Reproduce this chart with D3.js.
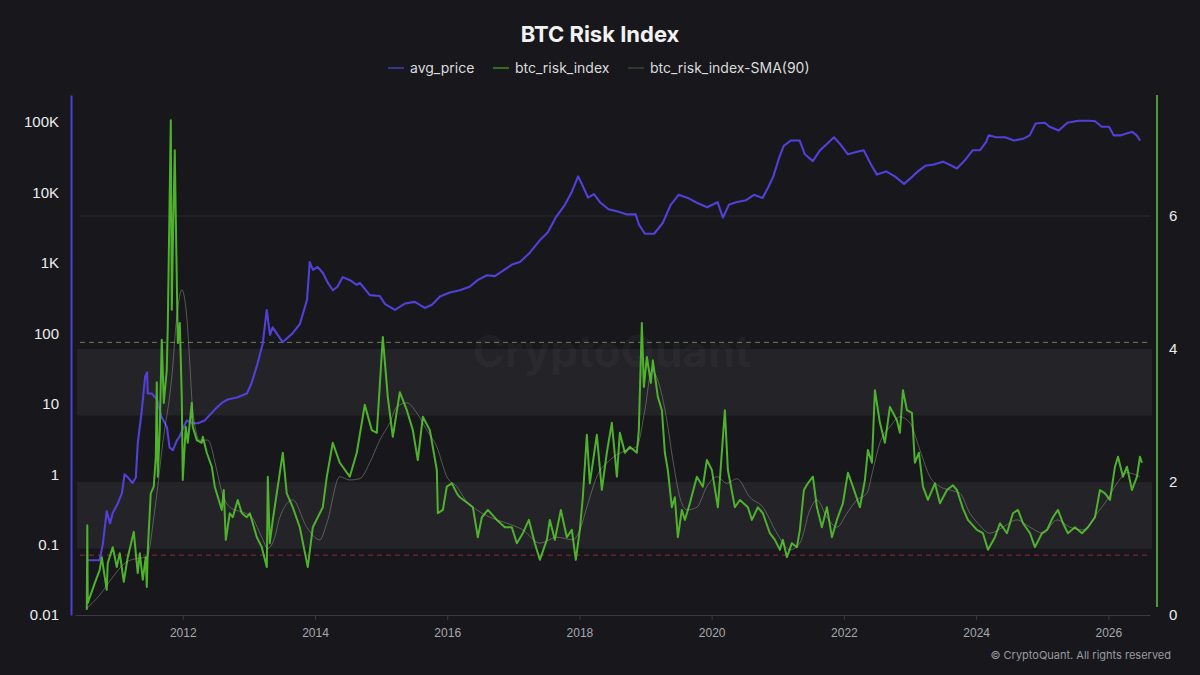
<!DOCTYPE html>
<html>
<head>
<meta charset="utf-8">
<script src="https://cdn.jsdelivr.net/npm/d3@7"></script>
<style>
  html, body { margin: 0; padding: 0; background: #17171c; }
  svg { display: block; font-family: Inter, "Noto Sans", sans-serif; }
</style>
</head>
<body>
<svg id="chart" width="1200" height="675"></svg>
<script>
// avg_price: [decimal year, USD]
const priceData = [
  [2010.55,0.06],[2010.59,0.06],[2010.74,0.06],[2010.79,0.1],[2010.85,0.3],[2010.90,0.2],[2010.94,0.28],
  [2011.02,0.39],[2011.08,0.54],[2011.12,1.0],[2011.17,0.9],[2011.24,0.75],[2011.29,0.9],[2011.32,2.8],
  [2011.38,8],[2011.43,24],[2011.46,28],[2011.47,14],[2011.53,14],[2011.61,11.5],[2011.68,6.5],
  [2011.76,4.7],[2011.80,2.4],[2011.85,2.2],[2011.91,3.0],[2011.95,3.4],[2012.06,5.8],[2012.15,5.3],
  [2012.23,5.3],[2012.33,5.8],[2012.48,8.2],[2012.59,10.3],[2012.68,11.5],[2012.83,12.4],[2012.97,14],
  [2013.04,19.6],[2013.13,37],[2013.21,72],[2013.27,215],[2013.32,95],[2013.36,122],[2013.51,75],
  [2013.66,100],[2013.77,135],[2013.88,300],[2013.92,1030],[2013.97,800],[2014.04,880],[2014.12,720],
  [2014.19,530],[2014.27,410],[2014.34,460],[2014.42,630],[2014.53,570],[2014.63,490],[2014.68,520],
  [2014.83,350],[2014.98,340],[2015.06,260],[2015.21,216],[2015.36,265],[2015.51,280],[2015.66,230],
  [2015.77,255],[2015.89,335],[2016.04,380],[2016.19,410],[2016.34,460],[2016.46,570],[2016.60,670],
  [2016.72,650],[2016.84,770],[2016.98,950],[2017.10,1030],[2017.25,1400],[2017.40,2100],[2017.52,2700],
  [2017.64,4400],[2017.78,6700],[2017.88,10000],[2017.98,17000],[2018.04,13000],[2018.13,8500],
  [2018.22,9500],[2018.31,7300],[2018.44,5800],[2018.58,5400],[2018.72,4900],[2018.85,4900],
  [2018.90,3500],[2018.99,2600],[2019.13,2600],[2019.26,3700],[2019.38,6700],[2019.50,9300],
  [2019.64,8400],[2019.76,7300],[2019.93,6200],[2020.09,7300],[2020.17,4400],[2020.26,6700],
  [2020.37,7300],[2020.52,7800],[2020.64,9300],[2020.77,8400],[2020.85,11600],[2020.93,16700],
  [2021.02,31000],[2021.09,46000],[2021.20,55000],[2021.33,55000],[2021.41,35000],[2021.53,28000],
  [2021.64,40000],[2021.77,52000],[2021.85,61000],[2021.95,48000],[2022.06,35000],[2022.20,38000],
  [2022.30,40000],[2022.41,25000],[2022.50,18000],[2022.64,20000],[2022.77,17000],[2022.91,13300],
  [2023.04,17000],[2023.12,20000],[2023.23,24000],[2023.36,25000],[2023.50,27500],[2023.63,24000],
  [2023.71,22000],[2023.82,28000],[2023.95,40000],[2024.06,40000],[2024.15,52000],[2024.19,65000],
  [2024.30,61000],[2024.44,61000],[2024.57,55000],[2024.71,58000],[2024.81,65000],[2024.90,96000],
  [2025.04,98000],[2025.11,86000],[2025.25,76000],[2025.38,98000],[2025.55,105000],[2025.71,105000],
  [2025.80,103000],[2025.90,86000],[2026.01,86000],[2026.08,65000],[2026.19,65000],[2026.36,73000],
  [2026.43,65000],[2026.48,55000]
];

// btc_risk_index: [decimal year, value]
const riskData = [
  [2010.548,0.08],[2010.556,1.35],[2010.563,0.18],[2010.669,0.48],[2010.744,0.68],[2010.775,0.87],
  [2010.820,0.57],[2010.850,0.38],[2010.865,0.78],[2010.941,1.02],[2011.002,0.72],[2011.047,0.93],
  [2011.108,0.5],[2011.168,0.87],[2011.259,1.25],[2011.319,0.63],[2011.350,0.93],[2011.395,0.53],
  [2011.440,0.87],[2011.456,0.42],[2011.471,0.98],[2011.516,1.83],[2011.561,1.93],[2011.592,2.38],
  [2011.607,3.5],[2011.622,2.08],[2011.652,2.78],[2011.682,4.14],[2011.713,3.19],[2011.758,3.68],
  [2011.773,4.33],[2011.819,7.44],[2011.834,4.59],[2011.849,5.53],[2011.879,6.99],[2011.909,5.08],
  [2011.925,4.09],[2011.955,4.39],[2011.985,3.28],[2012.000,2.03],[2012.045,2.83],[2012.076,2.59],
  [2012.136,3.19],[2012.151,2.83],[2012.212,2.63],[2012.287,2.59],[2012.303,2.68],[2012.363,2.44],
  [2012.439,2.23],[2012.484,1.93],[2012.514,1.83],[2012.590,1.58],[2012.620,1.88],[2012.651,1.13],
  [2012.711,1.53],[2012.756,1.47],[2012.832,1.73],[2012.893,1.53],[2012.968,1.47],[2013.014,1.53],
  [2013.044,1.43],[2013.120,1.17],[2013.195,1.02],[2013.271,0.72],[2013.286,2.08],[2013.316,1.08],
  [2013.362,1.43],[2013.513,2.44],[2013.573,1.83],[2013.664,1.62],[2013.770,1.32],[2013.891,0.72],
  [2013.967,1.32],[2014.118,1.62],[2014.179,2.08],[2014.269,2.59],[2014.375,2.29],[2014.526,2.08],
  [2014.632,2.44],[2014.753,3.16],[2014.859,2.78],[2014.935,2.74],[2015.026,4.18],[2015.101,3.28],
  [2015.177,2.68],[2015.283,3.35],[2015.389,3.08],[2015.480,2.78],[2015.555,2.33],[2015.631,2.98],
  [2015.737,2.78],[2015.843,2.18],[2015.858,1.53],[2015.934,1.58],[2015.994,1.93],[2016.070,1.98],
  [2016.146,1.83],[2016.191,1.77],[2016.312,1.68],[2016.388,1.62],[2016.463,1.17],[2016.524,1.47],
  [2016.615,1.58],[2016.751,1.43],[2016.872,1.32],[2016.977,1.32],[2017.053,1.08],[2017.144,1.23],
  [2017.235,1.43],[2017.325,1.08],[2017.401,0.83],[2017.507,1.13],[2017.552,1.43],[2017.628,1.13],
  [2017.719,1.58],[2017.809,1.17],[2017.885,1.28],[2017.945,0.83],[2018.006,1.28],[2018.051,1.77],
  [2018.112,2.71],[2018.157,1.98],[2018.263,2.71],[2018.339,1.88],[2018.414,2.44],[2018.490,2.89],
  [2018.566,2.08],[2018.611,2.74],[2018.687,2.44],[2018.762,2.53],[2018.868,2.44],[2018.898,2.78],
  [2018.944,4.39],[2018.974,3.43],[2019.020,3.88],[2019.080,3.49],[2019.110,3.83],[2019.186,3.28],
  [2019.247,3.08],[2019.292,2.44],[2019.337,2.18],[2019.398,1.62],[2019.443,1.77],[2019.489,1.17],
  [2019.549,1.58],[2019.595,1.43],[2019.670,1.68],[2019.776,2.08],[2019.867,1.93],[2019.927,2.33],
  [2020.003,2.18],[2020.094,1.62],[2020.200,3.08],[2020.245,2.18],[2020.351,1.62],[2020.427,1.73],
  [2020.548,1.62],[2020.608,1.43],[2020.699,1.62],[2020.775,1.53],[2020.880,1.23],[2020.956,1.13],
  [2021.032,0.98],[2021.077,1.13],[2021.138,0.87],[2021.213,1.08],[2021.289,1.02],[2021.334,1.28],
  [2021.395,1.88],[2021.455,1.98],[2021.531,2.08],[2021.592,1.62],[2021.667,1.32],[2021.743,1.62],
  [2021.819,1.17],[2021.894,1.43],[2021.985,1.68],[2022.061,2.14],[2022.136,1.93],[2022.242,1.62],
  [2022.318,2.03],[2022.363,2.48],[2022.424,2.29],[2022.469,3.38],[2022.545,2.89],[2022.620,2.59],
  [2022.696,3.13],[2022.802,2.93],[2022.847,2.74],[2022.893,3.38],[2022.954,3.08],[2023.029,3.04],
  [2023.074,2.29],[2023.135,2.44],[2023.196,1.93],[2023.271,1.73],[2023.377,1.98],[2023.453,1.68],
  [2023.559,1.88],[2023.649,1.95],[2023.710,1.88],[2023.801,1.6],[2023.876,1.43],[2024.012,1.28],
  [2024.103,1.23],[2024.179,0.98],[2024.285,1.17],[2024.361,1.38],[2024.466,1.23],[2024.557,1.53],
  [2024.633,1.58],[2024.709,1.38],[2024.815,1.23],[2024.890,1.02],[2024.996,1.23],[2025.072,1.28],
  [2025.162,1.47],[2025.238,1.58],[2025.314,1.38],[2025.389,1.23],[2025.495,1.32],[2025.601,1.23],
  [2025.692,1.32],[2025.798,1.47],[2025.873,1.88],[2025.949,1.83],[2026.025,1.73],[2026.100,2.23],
  [2026.146,2.38],[2026.221,2.08],[2026.282,2.23],[2026.357,1.88],[2026.433,2.08],[2026.478,2.38],
  [2026.509,2.29]
];

// btc_risk_index-SMA(90): [decimal year, value]
const smaData = [
  [2010.548,0.1],[2010.744,0.3],[2010.926,0.55],[2011.123,0.78],[2011.304,0.85],[2011.456,0.87],
  [2011.577,1.58],[2011.698,2.59],[2011.834,3.58],[2011.909,4.48],[2011.985,4.89],[2012.061,4.48],
  [2012.106,3.79],[2012.151,3.08],[2012.257,2.63],[2012.378,2.63],[2012.514,2.18],[2012.590,1.85],
  [2012.741,1.6],[2012.893,1.55],[2013.044,1.47],[2013.195,1.17],[2013.286,1.0],[2013.392,1.17],
  [2013.468,1.47],[2013.664,1.73],[2013.876,1.32],[2014.073,1.13],[2014.179,1.38],[2014.375,2.08],
  [2014.526,2.03],[2014.678,2.05],[2014.829,2.29],[2014.980,2.63],[2015.131,2.89],[2015.237,3.13],
  [2015.389,3.19],[2015.540,3.04],[2015.691,2.78],[2015.843,2.53],[2015.994,2.08],[2016.146,1.93],
  [2016.297,1.7],[2016.448,1.58],[2016.645,1.47],[2016.902,1.38],[2017.144,1.28],[2017.401,1.08],
  [2017.658,1.17],[2017.900,1.13],[2018.006,1.28],[2018.112,1.62],[2018.263,2.08],[2018.460,2.33],
  [2018.717,2.48],[2018.868,2.53],[2018.989,3.08],[2019.095,3.68],[2019.216,3.43],[2019.322,2.93],
  [2019.413,2.33],[2019.519,1.77],[2019.625,1.58],[2019.776,1.62],[2019.927,1.93],[2020.079,2.08],
  [2020.230,1.98],[2020.382,2.05],[2020.578,1.77],[2020.775,1.62],[2020.987,1.23],[2021.183,0.98],
  [2021.334,1.08],[2021.486,1.58],[2021.592,1.73],[2021.743,1.47],[2021.894,1.32],[2022.046,1.53],
  [2022.197,1.73],[2022.348,1.83],[2022.439,2.18],[2022.545,2.59],[2022.696,2.83],[2022.847,2.98],
  [2022.999,2.89],[2023.150,2.48],[2023.301,2.08],[2023.453,1.93],[2023.603,1.88],[2023.754,1.83],
  [2023.906,1.53],[2024.027,1.38],[2024.209,1.23],[2024.405,1.32],[2024.617,1.43],[2024.815,1.32],
  [2025.011,1.23],[2025.223,1.43],[2025.420,1.32],[2025.617,1.28],[2025.829,1.53],[2025.980,1.73],
  [2026.131,1.98],[2026.282,2.14],[2026.478,2.08]
];

const yearTicks = [2012, 2014, 2016, 2018, 2020, 2022, 2024, 2026];
const priceTicks = [0.01, 0.1, 1, 10, 100, 1000, 10000, 100000];
const priceTickLabels = ["0.01", "0.1", "1", "10", "100", "1K", "10K", "100K"];
const riskTicks = [0, 2, 4, 6];
const riskBands = [[1, 2], [3, 4]];
const upperLevel = 4.1;
const lowerLevel = 0.9;

const svg = d3.select("#chart");
const width = +svg.attr("width");
const height = +svg.attr("height");
const plot = { left: 75, right: 1150, top: 95, bottom: 615 };

svg.append("rect").attr("width", width).attr("height", height).attr("fill", "#17171c");

const x = d3.scaleLinear().domain([2010.37, 2026.63]).range([plot.left, plot.right]);
const yPrice = d3.scaleLog().domain([0.01, Math.pow(10, 5.386)]).range([plot.bottom, plot.top]);
const yRisk = d3.scaleLinear().domain([0, 7.82]).range([plot.bottom, plot.top]);

// title + legend
svg.append("text")
  .attr("x", width / 2).attr("y", 42)
  .attr("text-anchor", "middle")
  .attr("fill", "#f2f2f2")
  .style("font-size", "22px").style("font-weight", 700)
  .text("BTC Risk Index");

const legend = [
  { label: "avg_price", color: "#3a3490", x: 388 },
  { label: "btc_risk_index", color: "#356b27", x: 493 },
  { label: "btc_risk_index-SMA(90)", color: "#2f3a2c", x: 628 }
];
const lg = svg.append("g").attr("transform", "translate(0,68)");
legend.forEach(d => {
  lg.append("line").attr("x1", d.x).attr("x2", d.x + 16).attr("y1", 0).attr("y2", 0)
    .attr("stroke", d.color).attr("stroke-width", 2);
  lg.append("text").attr("x", d.x + 22).attr("y", 0).attr("dy", "0.35em")
    .attr("fill", "#dcdcdc").style("font-size", "14px").text(d.label);
});

// bands and reference lines
svg.append("g").selectAll("rect")
  .data(riskBands)
  .join("rect")
  .attr("x", plot.left + 2)
  .attr("width", plot.right - plot.left)
  .attr("y", d => yRisk(d[1]))
  .attr("height", d => yRisk(d[0]) - yRisk(d[1]))
  .attr("fill", "#ffffff")
  .attr("fill-opacity", 0.055);

svg.append("line")
  .attr("x1", plot.left + 5).attr("x2", plot.right)
  .attr("y1", yRisk(6)).attr("y2", yRisk(6))
  .attr("stroke", "#ffffff").attr("stroke-opacity", 0.08);

svg.append("line")
  .attr("x1", plot.left + 5).attr("x2", plot.right)
  .attr("y1", yRisk(upperLevel)).attr("y2", yRisk(upperLevel))
  .attr("stroke", "#7d9a62").attr("stroke-opacity", 0.8)
  .attr("stroke-dasharray", "5,4");

svg.append("line")
  .attr("x1", plot.left + 5).attr("x2", plot.right)
  .attr("y1", yRisk(lowerLevel)).attr("y2", yRisk(lowerLevel))
  .attr("stroke", "#b0323f").attr("stroke-opacity", 0.8)
  .attr("stroke-dasharray", "5,4");

// watermark
svg.append("text")
  .attr("x", 612).attr("y", 352)
  .attr("text-anchor", "middle").attr("dy", "0.35em")
  .attr("fill", "#ffffff").attr("fill-opacity", 0.045)
  .style("font-size", "44px").style("font-weight", 700)
  .text("CryptoQuant");

// axes
const xAxis = svg.append("g")
  .attr("transform", `translate(0,${plot.bottom})`)
  .call(d3.axisBottom(x).tickValues(yearTicks).tickFormat(d3.format("d")).tickSize(5).tickSizeOuter(0));
xAxis.select(".domain").attr("stroke", "#3a3a42");
xAxis.selectAll(".tick line").attr("stroke", "#3a3a42");
xAxis.selectAll("text").attr("fill", "#a8a8ae").attr("dy", "1.2em").style("font-size", "12px");

const leftAxis = svg.append("g")
  .attr("transform", "translate(71,0)")
  .call(d3.axisLeft(yPrice).tickValues(priceTicks)
    .tickFormat((d, i) => priceTickLabels[i]).tickSize(0).tickPadding(12));
leftAxis.select(".domain").attr("stroke", "#4b3fd6").attr("stroke-width", 2);
leftAxis.selectAll("text").attr("fill", "#ececec").style("font-size", "15px");

const rightAxis = svg.append("g")
  .attr("transform", "translate(1157,0)")
  .call(d3.axisRight(yRisk).tickValues(riskTicks).tickSize(0).tickPadding(12));
rightAxis.select(".domain").attr("stroke", "#4f9a34").attr("stroke-width", 2)
  .attr("d", `M0,${plot.top}V${plot.bottom - 8}`);
rightAxis.selectAll("text").attr("fill", "#ececec").style("font-size", "15px");

// series
const priceLine = d3.line().x(d => x(d[0])).y(d => yPrice(d[1]));
const riskLine = d3.line().x(d => x(d[0])).y(d => yRisk(d[1]));

svg.append("path")
  .datum(priceData)
  .attr("fill", "none")
  .attr("stroke", "#5240d8")
  .attr("stroke-width", 2.1)
  .attr("stroke-linejoin", "round")
  .attr("d", priceLine);

svg.append("path")
  .datum(riskData)
  .attr("fill", "none")
  .attr("stroke", "#4fb22d")
  .attr("stroke-width", 2)
  .attr("stroke-linejoin", "round")
  .attr("d", riskLine);

svg.append("path")
  .datum(smaData)
  .attr("fill", "none")
  .attr("stroke", "#a6b294")
  .attr("stroke-opacity", 0.55)
  .attr("stroke-width", 0.8)
  .attr("d", riskLine.curve(d3.curveMonotoneX));

// footer
svg.append("text")
  .attr("x", 1171).attr("y", 659)
  .attr("text-anchor", "end")
  .attr("fill", "#9a9aa0")
  .style("font-size", "11px")
  .text("© CryptoQuant. All rights reserved");
</script>
</body>
</html>
